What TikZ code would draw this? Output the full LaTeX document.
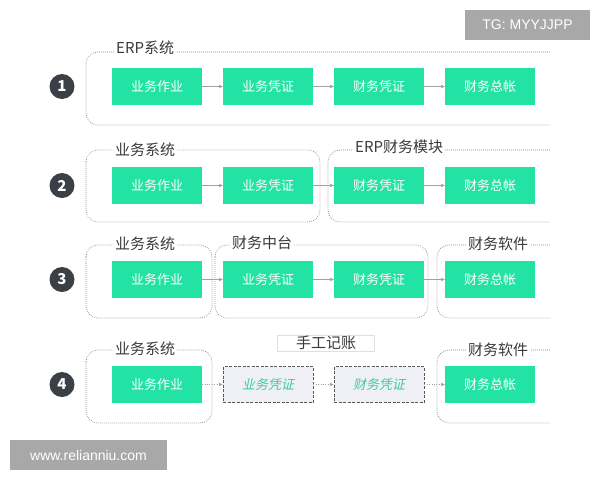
\documentclass[tikz,border=0pt]{standalone}
\usepackage{fontspec}
\setmainfont{Noto Sans CJK SC}
\newfontfamily\wmfont{Liberation Sans}
\newfontfamily\slantfont{Noto Sans CJK SC}[FakeSlant=0.2]
\usetikzlibrary{arrows.meta}
\definecolor{boxgreen}{HTML}{22E3A3}
\definecolor{mangreen}{HTML}{3CC9A0}
\definecolor{manfill}{HTML}{EEF0F5}
\definecolor{dotgray}{HTML}{3B4046}
\definecolor{framegray}{HTML}{8A8A8A}
\definecolor{framered}{HTML}{A88A8E}
\definecolor{arrowgray}{HTML}{A0A0A0}
\definecolor{darktext}{HTML}{3A3A3A}
\definecolor{wmgray}{HTML}{A8A8A8}

\begin{document}
\begin{tikzpicture}
  [x=1pt,y=-1pt,
   box/.style={rectangle,fill=boxgreen,text=white,minimum width=90pt,minimum height=37pt,font=\fontsize{13}{15}\selectfont},
   manbox/.style={rectangle,draw=gray!70!black,line width=0.8pt,dash pattern=on 3pt off 1.5pt,fill=manfill,text=mangreen,minimum width=90pt,minimum height=36pt,font=\slantfont\fontsize{13}{15}\selectfont},
   frame/.style={draw=framegray,line width=0.7pt,dash pattern=on 0.8pt off 1.2pt,rounded corners=12pt},
   redframe/.style={frame,draw=framered},
   tag/.style={fill=white,inner sep=2pt,text=darktext,font=\fontsize{15}{17}\selectfont},
   numdot/.style={circle,fill=dotgray,text=white,minimum size=25pt,inner sep=0pt,font=\bfseries\fontsize{15}{17}\selectfont},
   flow/.style={-{Stealth[length=4pt,width=3.5pt]},draw=arrowgray},
   wmark/.style={fill=wmgray,text=white,inner sep=0pt,font=\wmfont\fontsize{14}{16}\selectfont}]
  \useasboundingbox (0,0) rectangle (600,480);
  \fill[white] (0,0) rectangle (600,480);

  % frames
  \draw[frame] (550,52) -- (86,52) -- (86,125) -- (550,125);
  \draw[redframe] (86,150) rectangle (320,222);
  \draw[frame] (550,150) -- (328,150) -- (328,222) -- (550,222);
  \draw[frame] (86,245) rectangle (212,318);
  \draw[redframe] (215,245) rectangle (428,318);
  \draw[redframe] (550,245) -- (437,245) -- (437,318) -- (550,318);
  \draw[frame] (86,350) rectangle (212,423);
  \draw[frame] (550,350) -- (437,350) -- (437,423) -- (550,423);

  % frame titles
  \node[tag,anchor=west] (t1) at (114,48) {ERP系统};
  \node[tag,anchor=west] (t2) at (113,150) {业务系统};
  \node[tag,anchor=west] (t3) at (353,147) {ERP财务模块};
  \node[tag,anchor=west] (t4) at (113,244) {业务系统};
  \node[tag] (t5) at (262,243) {财务中台};
  \node[tag] (t6) at (498,244) {财务软件};
  \node[tag,anchor=west] (t7) at (113,349) {业务系统};
  \node[tag,draw=gray!25,minimum width=97pt,inner sep=1pt] (t8) at (326,343) {手工记账};
  \node[tag] (t9) at (498,350) {财务软件};

  % row numbers
  \node[numdot] (n1) at (62,86.5) {1};
  \node[numdot] (n2) at (62,185.5) {2};
  \node[numdot] (n3) at (62,279.5) {3};
  \node[numdot] (n4) at (62,384.5) {4};

  % boxes
  \node[box] (a1) at (157,86.5) {业务作业};
  \node[box] (a2) at (268,86.5) {业务凭证};
  \node[box] (a3) at (379,86.5) {财务凭证};
  \node[box] (a4) at (490,86.5) {财务总帐};

  \node[box] (b1) at (157,185.5) {业务作业};
  \node[box] (b2) at (268,185.5) {业务凭证};
  \node[box] (b3) at (379,185.5) {财务凭证};
  \node[box] (b4) at (490,185.5) {财务总帐};

  \node[box] (c1) at (157,279.5) {业务作业};
  \node[box] (c2) at (268,279.5) {业务凭证};
  \node[box] (c3) at (379,279.5) {财务凭证};
  \node[box] (c4) at (490,279.5) {财务总帐};

  \node[box] (d1) at (157,384.5) {业务作业};
  \node[manbox] (d2) at (268,384.5) {业务凭证};
  \node[manbox] (d3) at (379,384.5) {财务凭证};
  \node[box] (d4) at (490,384.5) {财务总帐};

  \foreach \from/\to in {a1/a2,a2/a3,a3/a4,b1/b2,b2/b3,b3/b4,c1/c2,c2/c3,c3/c4}
    \draw[flow] (\from) -- (\to);
  \foreach \from/\to in {d1/d2,d2/d3,d3/d4}
    \draw[flow,dotted] (\from) -- (\to);

  % watermarks
  \node[wmark,minimum width=125pt,minimum height=30pt] (w1) at (527.5,25) {TG: MYYJJPP};
  \node[wmark,minimum width=157pt,minimum height=30pt] (w2) at (88.5,455) {www.relianniu.com};
\end{tikzpicture}
\end{document}
